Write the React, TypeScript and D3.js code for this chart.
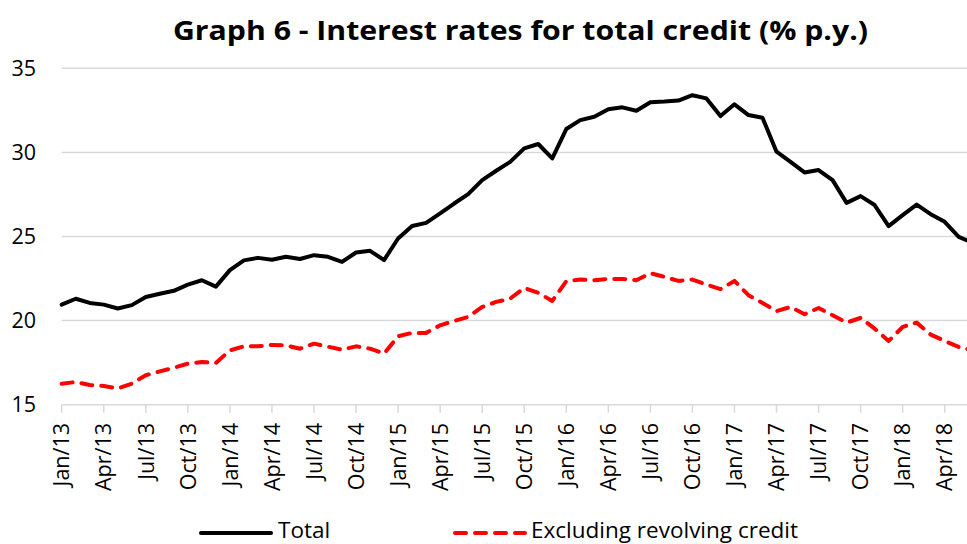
import React from "react";
import * as d3 from "d3";

const months = ["Jan", "Feb", "Mar", "Apr", "May", "Jun", "Jul", "Aug", "Sep", "Oct", "Nov", "Dec"];
const startYear = 13;
const total = [
  20.95, 21.3, 21.05, 20.95, 20.72, 20.92, 21.4, 21.6, 21.77, 22.14, 22.4, 22.02,
  23.0, 23.58, 23.73, 23.62, 23.8, 23.66, 23.89, 23.79, 23.49, 24.05, 24.15, 23.6,
  24.88, 25.62, 25.81, 26.37, 26.96, 27.52, 28.35, 28.91, 29.44, 30.24, 30.5, 29.64,
  31.39, 31.92, 32.12, 32.56, 32.68, 32.48, 32.98, 33.02, 33.08, 33.4, 33.21, 32.16,
  32.86, 32.22, 32.06, 30.04, 29.44, 28.81, 28.95, 28.35, 27.0, 27.4, 26.87, 25.62,
  26.27, 26.9, 26.33, 25.87, 24.98, 24.62,
];
const exRevolving = [
  16.25, 16.35, 16.17, 16.11, 15.97, 16.25, 16.75, 16.98, 17.2, 17.44, 17.54, 17.48,
  18.23, 18.47, 18.47, 18.55, 18.53, 18.33, 18.63, 18.45, 18.27, 18.47, 18.33, 18.04,
  19.07, 19.27, 19.27, 19.72, 19.98, 20.22, 20.81, 21.11, 21.31, 21.94, 21.65, 21.17,
  22.34, 22.44, 22.4, 22.48, 22.48, 22.4, 22.82, 22.6, 22.36, 22.44, 22.14, 21.87,
  22.36, 21.51, 21.05, 20.56, 20.81, 20.38, 20.75, 20.32, 19.88, 20.16, 19.52, 18.79,
  19.62, 19.88, 19.17, 18.79, 18.43, 18.23,
];
const yTicks = [15, 20, 25, 30, 35];
const seriesNames = ["Total", "Excluding revolving credit"];
const title = "Graph 6 - Interest rates for total credit (% p.y.)";

const labels = total.map((_, i) => `${months[i % 12]}/${startYear + Math.floor(i / 12)}`);

export default function App() {
  const W = 967, H = 544;
  const x = d3.scaleLinear().domain([0, 63]).range([61.7, 944.7]);
  const y = d3.scaleLinear().domain([15, 35]).range([404.7, 68.3]);
  const line = d3.line<number>().x((_, i) => x(i)).y((d) => y(d));
  const tickIdx = d3.range(0, total.length, 3);
  const font = "'Open Sans', 'Noto Sans', sans-serif";
  return (
    <svg width={W} height={H} style={{ position: "absolute", left: 0, top: 0, display: "block", background: "#fff" }} fontFamily={font}>
      <rect x={0} y={0} width={W} height={H} fill="#fff" />
      <text x={173} y={40} fontSize={27.5} fontWeight={700} fill="#000" textLength={695} lengthAdjust="spacingAndGlyphs">{title}</text>
      {yTicks.map((t) => (
        <g key={t}>
          <line x1={61.7} x2={W + 10} y1={y(t)} y2={y(t)} stroke="#d9d9d9" strokeWidth={1.5} />
          <text x={36} y={y(t)} dy="0.36em" textAnchor="end" fontSize={21.5} fill="#000">{t}</text>
        </g>
      ))}
      {tickIdx.map((i) => (
        <g key={i}>
          <line x1={x(i)} x2={x(i)} y1={y(15)} y2={y(15) + 8} stroke="#d9d9d9" strokeWidth={1.5} />
          <text transform={`translate(${x(i)},${423}) rotate(-90)`} dy="0.36em" textAnchor="end" fontSize={21.5} fill="#000">{labels[i]}</text>
        </g>
      ))}
      <path d={line(exRevolving) || ""} fill="none" stroke="#ff0000" strokeWidth={4} strokeDasharray="11 9" strokeLinecap="round" strokeLinejoin="round" />
      <path d={line(total) || ""} fill="none" stroke="#000" strokeWidth={4} strokeLinejoin="round" strokeLinecap="round" />
      <line x1={201} x2={271} y1={533} y2={533} stroke="#000" strokeWidth={4} strokeLinecap="round" />
      <text x={278} y={538} fontSize={22.5} fill="#000">{seriesNames[0]}</text>
      <line x1={455} x2={525} y1={533} y2={533} stroke="#ff0000" strokeWidth={4} strokeDasharray="11 9" strokeLinecap="round" />
      <text x={531} y={538} fontSize={22.5} fill="#000">{seriesNames[1]}</text>
    </svg>
  );
}
